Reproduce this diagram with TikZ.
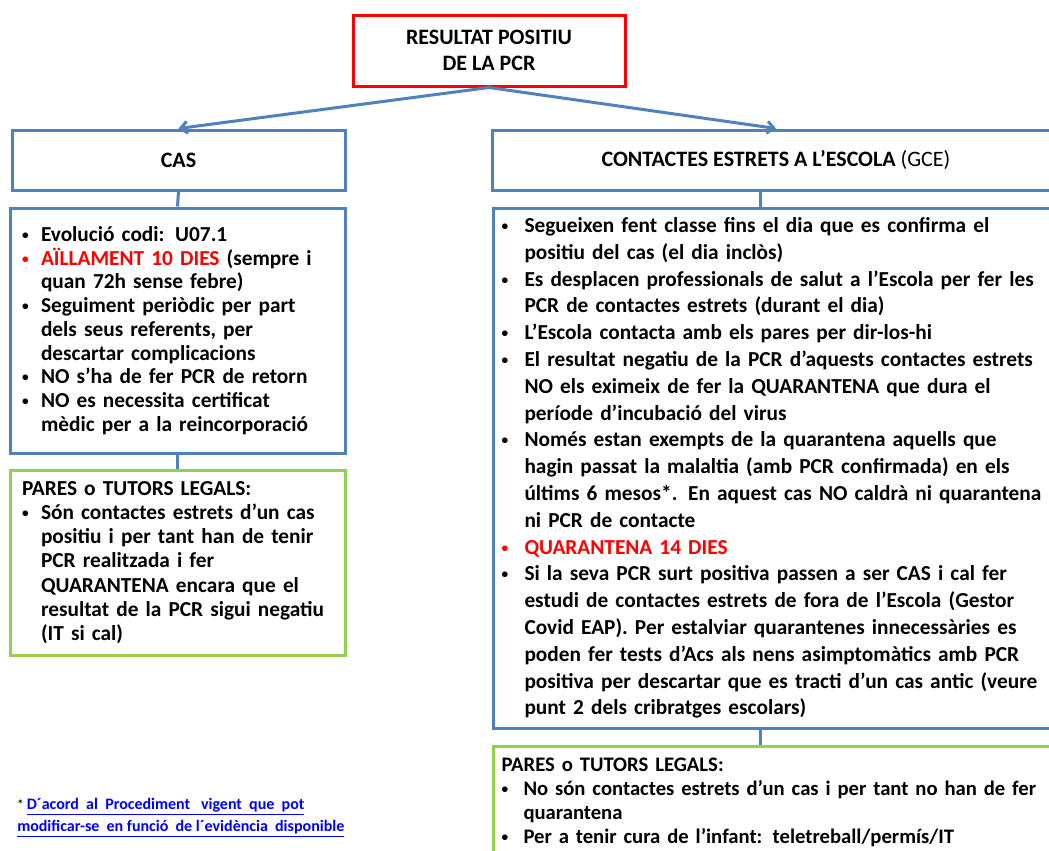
\documentclass[tikz,border=0pt]{standalone}
\usepackage{fontspec}
\setmainfont{Carlito}
\usetikzlibrary{arrows.meta}

\definecolor{pcrred}{RGB}{255,0,0}
\definecolor{pcrblue}{RGB}{79,129,189}
\definecolor{pcrgreen}{RGB}{146,208,80}
\definecolor{fnblue}{RGB}{0,0,255}

\newlength\bulw
\newcommand{\itm}{\makebox[\bulw][l]{\raisebox{1.5pt}{\fontsize{10}{10}\selectfont\textbullet}}}
\newcommand{\cont}{\hspace*{\bulw}}

\tikzset{
  box/.style={line width=2.25pt, inner ysep=0pt, font=\bfseries},
  redbox/.style={box, draw=pcrred, align=center, font=\bfseries\fontsize{16.5}{19.5}\selectfont},
  headbox/.style={box, draw=pcrblue, font=\bfseries\fontsize{16.5}{19.5}\selectfont},
  bodybox/.style={box, draw=pcrblue, align=left},
  parebox/.style={box, draw=pcrgreen, align=left},
  link/.style={draw=pcrblue, line width=2.25pt},
}

\begin{document}
\begin{tikzpicture}[x=0.75pt, y=-0.75pt]
\useasboundingbox (0,0) rectangle (1049,850);
\clip (0,0) rectangle (1049,850);

\node[redbox, minimum width=204pt, minimum height=53.25pt] (pcr) at (489,50.5)
  {RESULTAT POSITIU\\DE LA PCR};
\node[headbox, minimum width=249.75pt, minimum height=45pt] (cas) at (178.5,160) {CAS};
\node[headbox, minimum width=426pt, minimum height=45pt] (gce) at (776,160)
  {CONTACTES ESTRETS A L’ESCOLA \mdseries(GCE)};

% cas
\node[bodybox, text width=233.25pt, inner xsep=9pt, minimum height=183.75pt,
  font=\bfseries\fontsize{16}{17.8}\selectfont] (casbody) at (177.5,330.5) {%
\setlength\bulw{14.25pt}%
\itm Evolució codi: U07.1\\
\textcolor{pcrred}{\itm AÏLLAMENT 10 DIES} (sempre i\\
\cont quan 72h sense febre)\\
\itm Seguiment periòdic per part\\
\cont dels seus referents, per\\
\cont descartar complicacions\\
\itm NO s’ha de fer PCR de retorn\\
\itm NO es necessita certificat\\
\cont mèdic per a la reincorporació};
\node[parebox, text width=233.25pt, inner xsep=9pt, minimum height=138.75pt,
  font=\bfseries\fontsize{16}{18.2}\selectfont] (caspares) at (177.5,562.5) {%
\setlength\bulw{14.25pt}%
PARES o TUTORS LEGALS:\\
\itm Són contactes estrets d’un cas\\
\cont positiu i per tant han de tenir\\
\cont PCR realitzada i fer\\
\cont QUARANTENA encara que el\\
\cont resultat de la PCR sigui negatiu\\
\cont (IT si cal)};

% contactes
\node[bodybox, anchor=west, text width=440pt, inner xsep=6pt, minimum height=390pt,
  font=\bfseries\fontsize{16}{20.1}\selectfont] (gcebody) at (492,468) {%
\setlength\bulw{17.25pt}%
\itm Segueixen fent classe fins el dia que es confirma el\\
\cont positiu del cas (el dia inclòs)\\
\itm Es desplacen professionals de salut a l’Escola per fer les\\
\cont PCR de contactes estrets (durant el dia)\\
\itm L’Escola contacta amb els pares per dir-los-hi\\
\itm El resultat negatiu de la PCR d’aquests contactes estrets\\
\cont NO els eximeix de fer la QUARANTENA que dura el\\
\cont període d’incubació del virus\\
\itm Només estan exempts de la quarantena aquells que\\
\cont hagin passat la malaltia (amb PCR confirmada) en els\\
\cont últims 6 mesos*. En aquest cas NO caldrà ni quarantena\\
\cont ni PCR de contacte\\
\textcolor{pcrred}{\itm QUARANTENA 14 DIES}\\
\itm Si la seva PCR surt positiva passen a ser CAS i cal fer\\
\cont estudi de contactes estrets de fora de l’Escola (Gestor\\
\cont Covid EAP). Per estalviar quarantenes innecessàries es\\
\cont poden fer tests d’Acs als nens asimptomàtics amb PCR\\
\cont positiva per descartar que es tracti d’un cas antic (veure\\
\cont punt 2 dels cribratges escolars)};
\node[parebox, anchor=west, text width=440pt, inner xsep=6pt, minimum height=84pt,
  font=\bfseries\fontsize{15.5}{18}\selectfont] (gcepares) at (492,802) {%
\setlength\bulw{16.5pt}%
PARES o TUTORS LEGALS:\\
\itm No són contactes estrets d’un cas i per tant no han de fer\\
\cont quarantena\\
\itm Per a tenir cura de l’infant: teletreball/permís/IT};

% footnote
\node[anchor=north west, align=left, inner sep=0pt,
  font=\bfseries\fontsize{12}{16.5}\selectfont] (fn) at (17,798)
  {\raisebox{1pt}{\fontsize{9}{9}\selectfont*} \textcolor{fnblue}{\underline{D´acord\ \ al\ \ Procediment\ \ \ vigent\ \ que\ \ pot}}\\
   \textcolor{fnblue}{\underline{modificar-se\ \ en funció\ \ de l´evidència\ \ disponible}}};

\draw[link, -{Straight Barb[length=5pt, width=9pt]}] (pcr.south) -- (cas.north);
\draw[link, -{Straight Barb[length=5pt, width=9pt]}] (pcr.south) -- (gce.north);
\draw[link] (cas.south) -- (casbody.north);
\draw[link] (casbody.south) -- (caspares.north);
\draw[link] ([xshift=-12pt]gce.south) -- ([xshift=-12pt]gce.south |- gcebody.north);
\draw[link] ([xshift=-12pt]gce.south |- gcebody.south) -- ([xshift=-12pt]gce.south |- gcepares.north);
\end{tikzpicture}
\end{document}
